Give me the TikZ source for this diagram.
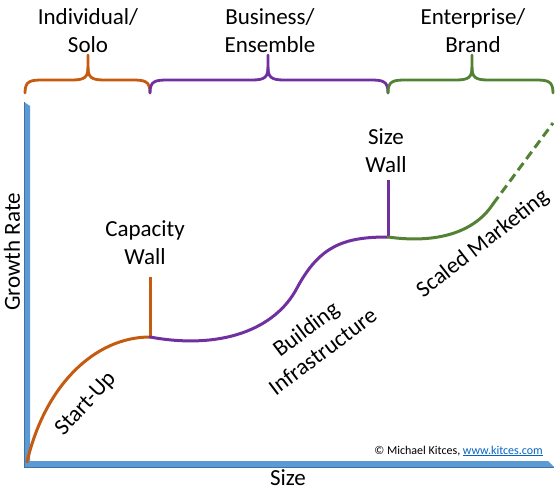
\documentclass[tikz,border=0pt]{standalone}
\usepackage{fontspec}
\setmainfont{Carlito}
\definecolor{cOrange}{HTML}{C55A11}
\definecolor{cPurple}{HTML}{7030A0}
\definecolor{cGreen}{HTML}{548235}
\definecolor{cAxis}{HTML}{5B9BD5}
\definecolor{cAxisDark}{HTML}{41719C}
\definecolor{cLink}{HTML}{0563C1}
\newcommand\mybrace[4]{%
  \draw[bracestyle,#4] (#1,93) .. controls (#1,81) and (#1+5,80) .. (#1+18,80)
    -- (#2-16,80) .. controls (#2-3,80) and (#2,77) .. (#2,67) -- (#2,55);
  \draw[bracestyle,#4] (#2,67) .. controls (#2,77) and (#2+3,80) .. (#2+16,80)
    -- (#3-18,80) .. controls (#3-5,80) and (#3,81) .. (#3,93);
}
\begin{document}
\begin{tikzpicture}[x=1pt,y=-1pt,
  bracestyle/.style={line width=2.8pt,line cap=round,line join=round},
  curve/.style={line width=3pt,line cap=round},
  wall/.style={line width=3pt},
  big/.style={font=\fontsize{23}{28}\selectfont,inner sep=0pt},
  small/.style={font=\fontsize{12}{14}\selectfont,inner sep=0pt}]
\useasboundingbox (0,0) rectangle (558,492);
% axes
\fill[cAxis] (24,467) -- (24,102) -- (30,106) -- (30,461) -- (548,461) -- (554,467) -- cycle;
\draw[cAxisDark,line width=0.8pt] (24,467) -- (554,467);
\draw[cAxisDark,line width=0.8pt] (24,467) -- (24,102);
% braces
\mybrace{25}{88}{150}{cOrange}
\mybrace{150}{268}{388}{cPurple}
\mybrace{388}{472}{553}{cGreen}
% header labels
\node[big,anchor=base] (ind) at (88,25) {Individual/};
\node[big,anchor=base] (solo) at (88,53) {Solo};
\node[big,anchor=base] (bus) at (270,25) {Business/};
\node[big,anchor=base] (ens) at (270,53) {Ensemble};
\node[big,anchor=base] (ent) at (473,25) {Enterprise/};
\node[big,anchor=base] (brand) at (473,53) {Brand};
% curve points
\coordinate (o) at (27,462);
\coordinate (cw) at (150,337);
\coordinate (cwtop) at (150,277);
\coordinate (mid) at (297,288);
\coordinate (sw) at (388,237);
\coordinate (swtop) at (388,180);
\coordinate (gend) at (493,204);
\coordinate (gdash) at (553,123);
% curves
\draw[curve,cOrange] (o) .. controls (45,385) and (95,337) .. (cw);
\draw[wall,cOrange] (cw) -- (cwtop);
\draw[curve,cPurple] (cw) .. controls (220,350) and (275,330) .. (mid)
   .. controls (320,245) and (345,237) .. (sw);
\draw[wall,cPurple] (sw) -- (swtop);
\draw[curve,cGreen] (sw) .. controls (430,243) and (472,236) .. (gend);
\draw[line width=3pt,cGreen,dash pattern=on 9pt off 5pt] (gend) -- (gdash);
% wall labels
\node[big,anchor=base] (cap1) at (145,237) {Capacity};
\node[big,anchor=base] (cap2) at (145,265) {Wall};
\node[big,anchor=base] (size1) at (386,145) {Size};
\node[big,anchor=base] (size2) at (386,173) {Wall};
% rotated labels
\node[big,rotate=47] (start) at (86,404) {Start-Up};
\node[big,rotate=37,align=center] (build) at (314,340) {Building\\Infrastructure};
\node[big,rotate=38] (scaled) at (483,244) {Scaled Marketing};
% axis labels
\node[big,rotate=90] (gr) at (12,252) {Growth Rate};
\node[big] (sz) at (288,478) {Size};
\node[small,anchor=base east] (copy) at (543,454) {© Michael Kitces, {\color{cLink}\underline{www.kitces.com}}};
\end{tikzpicture}
\end{document}
